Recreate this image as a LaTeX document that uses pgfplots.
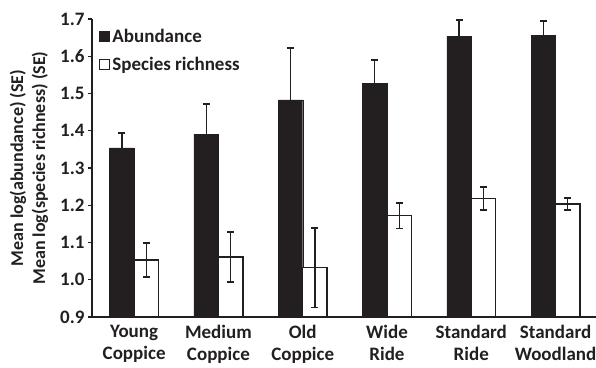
\documentclass[border=0pt]{standalone}
\usepackage{fontspec}
\setmainfont{Carlito}
\usepackage{pgfplots}
\pgfplotsset{compat=1.18}
\definecolor{ink}{RGB}{35,31,32}
\begin{document}
\begin{tikzpicture}
\useasboundingbox (-92pt,-50pt) rectangle (504pt,317pt);
\begin{axis}[
  at={(0,0)}, anchor=south west,
  scale only axis,
  width=504pt, height=298pt,
  xmin=-0.5, xmax=5.48,
  ymin=0.9, ymax=1.7,
  ytick={0.9,1.0,...,1.75},
  axis x line*=bottom, axis y line*=left,
  axis line style={line width=1.6pt, ink},
  xtick={0,1,2,3,4,5},
  xticklabels={{Young\\Coppice},{Medium\\Coppice},{Old\\Coppice},{Wide\\Ride},{Standard\\Ride},{Standard\\Woodland}},
  xticklabel style={align=center, font=\fontsize{19}{21.5}\selectfont\bfseries, text=ink, yshift=-1pt},
  yticklabel style={font=\fontsize{19}{22}\selectfont\bfseries, text=ink},
  x tick style={draw=none},
  y tick style={line width=1.4pt, ink},
  tick align=outside, major tick length=4pt,
  /pgf/number format/assume math mode=true,
  /pgf/number format/.cd, fixed, fixed zerofill, precision=1, /pgfplots/.cd,
  ylabel={Mean log(abundance) (SE)\\Mean log(species richness) (SE)},
  ylabel style={at={(axis description cs:-0.125,0.5)}, anchor=center, align=center,
    font=\fontsize{18}{22}\selectfont\bfseries, text=ink},
  legend style={draw=none, fill=none, at={(axis description cs:0,1)}, anchor=north west,
    xshift=4pt, yshift=-6pt,
    font=\fontsize{19}{22}\selectfont\bfseries, text=ink, row sep=9pt},
  legend cell align=left,
  legend image code/.code={\draw[#1, line width=1.2pt] (0pt,-5pt) rectangle (10pt,5pt);},
]
\addplot[ybar, bar width=0.29, bar shift=0pt, fill=ink, draw=ink,
  error bars/.cd, y dir=plus, y explicit,
  error bar style={line width=1.4pt, ink},
  error mark options={rotate=90, mark size=3.5pt, line width=1.6pt, ink}]
  coordinates {
  (-0.145,1.354) +- (0,0.040)
  (0.855,1.391) +- (0,0.081)
  (1.855,1.483) +- (0,0.139)
  (2.855,1.528) +- (0,0.062)
  (3.855,1.654) +- (0,0.043)
  (4.855,1.657) +- (0,0.038)
  };
\addlegendentry{Abundance}
\addplot[ybar, bar width=0.29, bar shift=0pt, fill=white, draw=ink, line width=1.3pt,
  error bars/.cd, y dir=both, y explicit,
  error bar style={line width=1.4pt, ink},
  error mark options={rotate=90, mark size=3.5pt, line width=1.6pt, ink}]
  coordinates {
  (0.145,1.053) +- (0,0.045)
  (1.145,1.061) +- (0,0.067)
  (2.145,1.032) +- (0,0.107)
  (3.145,1.172) +- (0,0.034)
  (4.145,1.218) +- (0,0.031)
  (5.145,1.203) +- (0,0.016)
  };
\addlegendentry{Species richness}
\end{axis}
\end{tikzpicture}
\end{document}
